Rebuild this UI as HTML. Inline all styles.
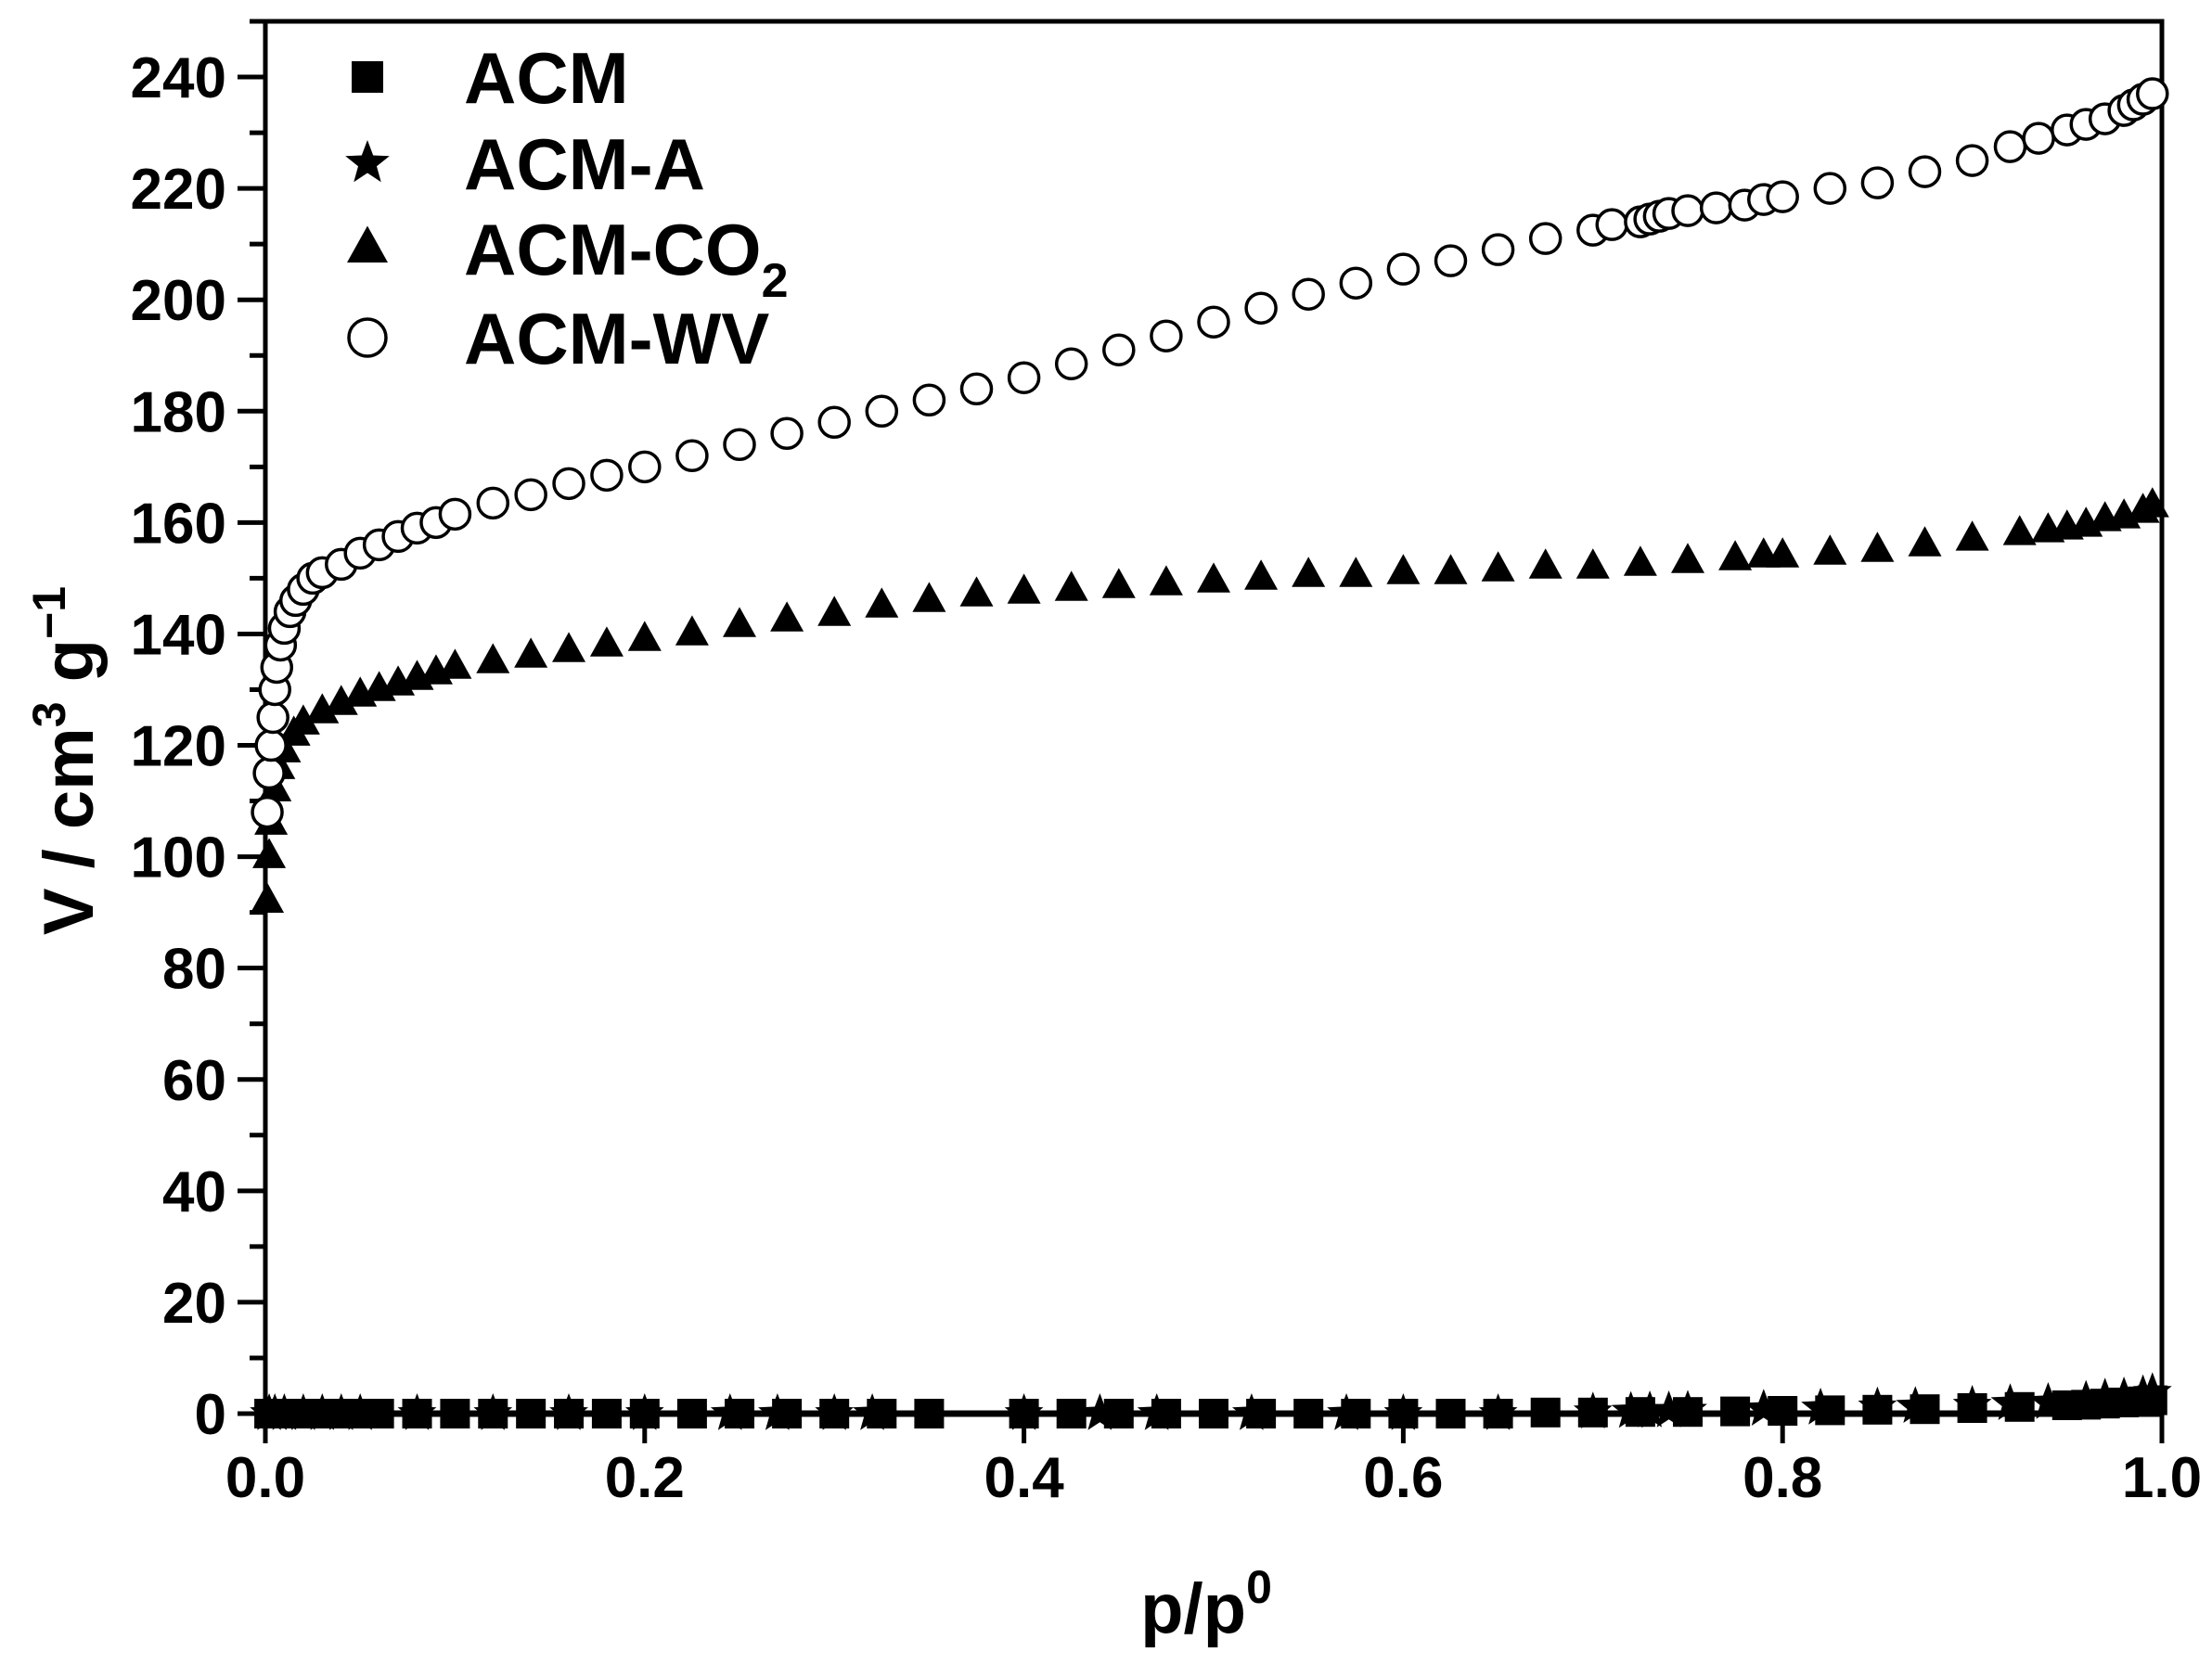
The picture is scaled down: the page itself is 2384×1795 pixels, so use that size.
<!DOCTYPE html>
<html><head><meta charset="utf-8"><style>
html,body{margin:0;padding:0;background:#fff;}
svg{display:block;font-family:"Liberation Sans",Arial,sans-serif;font-weight:bold;}
</style></head><body>
<svg id="chart" width="2384" height="1795" viewBox="0 0 2384 1795" xmlns="http://www.w3.org/2000/svg">
<g id="axes"></g>
<g id="marks"></g>
<g id="legend"></g>
<text transform="translate(100,820) rotate(-90)" text-anchor="middle" font-size="76">V / cm<tspan dy="-30" font-size="50">3</tspan><tspan dy="30"> g</tspan><tspan dy="-30" font-size="50">−1</tspan></text>
<text x="1300" y="1760" text-anchor="middle" font-size="76">p/p<tspan dy="-32" font-size="50">0</tspan></text>
</svg>
<script>
const xTicks=[0,0.2,0.4,0.6,0.8,1.0];
const xTickLabels=["0.0","0.2","0.4","0.6","0.8","1.0"];
const yTicks=[0,20,40,60,80,100,120,140,160,180,200,220,240];
const wvX=[0.001,0.002,0.003,0.004,0.005,0.006,0.008,0.01,0.013,0.016,0.02,0.025,0.03,0.04,0.05,0.06,0.07,0.08,0.09,0.1,0.12,0.14,0.16,0.18,0.2,0.225,0.25,0.275,0.3,0.325,0.35,0.375,0.4,0.425,0.45,0.475,0.5,0.525,0.55,0.575,0.6,0.625,0.65,0.675,0.7,0.71,0.725,0.73,0.735,0.74,0.75,0.765,0.78,0.79,0.8,0.825,0.85,0.875,0.9,0.92,0.935,0.95,0.96,0.97,0.98,0.985,0.99,0.995];
const wvY=[108,115,120,125,130,134,138,141,144,146,148,150,151,152.5,154.5,156,157.5,159,160,161.5,163.5,165,167,168.5,170,172,174,176,178,180,182,184,186,188.5,191,193.5,196,198.5,201,203,205.5,207,209,211,212.5,213.5,214,214.5,215,215.5,216,216.5,217,218,218.5,220,221,223,225,227.5,229,230.5,231.5,232.5,234,235,236,237];
const co2X=[0.001,0.002,0.003,0.005,0.007,0.01,0.015,0.02,0.03,0.04,0.05,0.06,0.07,0.08,0.09,0.1,0.12,0.14,0.16,0.18,0.2,0.225,0.25,0.275,0.3,0.325,0.35,0.375,0.4,0.425,0.45,0.475,0.5,0.525,0.55,0.575,0.6,0.625,0.65,0.675,0.7,0.725,0.75,0.775,0.79,0.8,0.825,0.85,0.875,0.9,0.925,0.94,0.95,0.96,0.97,0.98,0.99,0.995];
const co2Y=[92,100,106,112,116,119,122,124,126,127.5,129,130,131,132,133,134,135,136,137,138,139,140,141.5,142.5,143.5,145,146,147,147.5,148,148.5,149,149.5,150,150.5,150.5,151,151,151.5,152,152,152.5,153,153.5,154,154,154.5,155,156,157,158,158.5,159,159.5,160.5,161,162,163];
const acmX=[0.002,0.005,0.01,0.02,0.03,0.04,0.05,0.06,0.08,0.1,0.12,0.14,0.16,0.18,0.2,0.225,0.25,0.275,0.3,0.325,0.35,0.4,0.425,0.45,0.475,0.5,0.525,0.55,0.575,0.6,0.625,0.65,0.675,0.7,0.725,0.75,0.775,0.8,0.825,0.85,0.875,0.9,0.925,0.95,0.96,0.97,0.98,0.99,0.995];
const acmY=[0,0,0,0,0,0,0,0,0,0,0,0,0,0,0,0,0,0,0,0,0,0,0,0,0,0,0,0,0,0,0,0,0.2,0.2,0.3,0.3,0.4,0.5,0.6,0.7,0.8,1,1.2,1.5,1.6,1.8,2,2.2,2.4];
const acmAX=[0.002,0.005,0.01,0.02,0.03,0.04,0.05,0.08,0.12,0.16,0.2,0.245,0.27,0.3,0.32,0.4,0.44,0.47,0.52,0.57,0.6,0.65,0.7,0.72,0.73,0.74,0.75,0.79,0.82,0.85,0.87,0.9,0.92,0.94,0.96,0.97,0.98,0.99,0.995];
const acmAY=[0,0,0,0,0,0,0,0,0,0,0,0,0,0,0,0,0,0,0,0,0,0,0.3,0.4,0.5,0.5,0.6,0.8,1,1.2,1.3,1.5,1.8,2,2.4,2.8,3,3.4,3.8];

const X0=286,X1=2330,Ytop=23,Y0=1524,YMAX=250;
function sx(v){return X0+(X1-X0)*v;}
function sy(v){return Y0-(Y0-Ytop)*v/YMAX;}
const NS="http://www.w3.org/2000/svg";
function mk(tag,parent,attrs){const e=document.createElementNS(NS,tag);for(const k in attrs)e.setAttribute(k,attrs[k]);parent.appendChild(e);return e;}
const axes=document.getElementById('axes'),marks=document.getElementById('marks'),legend=document.getElementById('legend');

let frame=mk('rect',axes,{x:X0,y:Ytop,width:X1-X0,height:Y0-Ytop,fill:'none',stroke:'#000','stroke-width':5});


let zl=mk('line',axes,{x1:X0,x2:X1,y1:Y0,y2:Y0,stroke:'#000','stroke-width':7});



xTicks.forEach((v,i)=>{
  const t=mk('line',axes,{x1:sx(v),x2:sx(v),y1:Y0,y2:Y0+32,stroke:'#000','stroke-width':5});
  
  
  const l=mk('text',axes,{x:sx(v),y:Y0+90,'text-anchor':'middle','font-size':62});
  l.textContent=xTickLabels[i];
  
  
});
yTicks.forEach(v=>{
  const t=mk('line',axes,{x1:X0-30,x2:X0,y1:sy(v),y2:sy(v),stroke:'#000','stroke-width':5});
  
  
  const m=mk('line',axes,{x1:X0-17,x2:X0,y1:sy(v+10),y2:sy(v+10),stroke:'#000','stroke-width':5});
  
  
  const l=mk('text',axes,{x:X0-42,y:sy(v)+22,'text-anchor':'end','font-size':62});
  l.textContent=String(v);
  
  
});

function square(p,cx,cy,s){return mk('rect',p,{x:cx-s/2,y:cy-s/2,width:s,height:s,fill:'#000'});}
function star(p,cx,cy,r){let pts=[];for(let i=0;i<10;i++){const a=-Math.PI/2+i*Math.PI/5,rr=i%2?r*0.42:r;pts.push((cx+rr*Math.cos(a)).toFixed(1)+','+(cy+rr*Math.sin(a)).toFixed(1));}return mk('polygon',p,{points:pts.join(' '),fill:'#000'});}
function tri(p,cx,cy,s){const h=s*0.9;return mk('polygon',p,{points:`${cx},${cy-h*0.62} ${cx-s/2},${cy+h*0.38} ${cx+s/2},${cy+h*0.38}`,fill:'#000'});}
function circ(p,cx,cy,r){return mk('circle',p,{cx:cx,cy:cy,r:r,fill:'#fff',stroke:'#000','stroke-width':3.5});}

acmX.forEach((x,i)=>{const e=square(marks,sx(x),sy(acmY[i]),32);
  
  });
acmAX.forEach((x,i)=>{const e=star(marks,sx(x),sy(acmAY[i]),22);
  
  });
co2X.forEach((x,i)=>{const e=tri(marks,sx(x),sy(co2Y[i]),36);
  
  });
wvX.forEach((x,i)=>{const e=circ(marks,sx(x),sy(wvY[i]),16);
  
  });

const legNames=["ACM","ACM-A","ACM-CO","ACM-WV"];
const legY=[83,176,268,364];
legNames.forEach((n,i)=>{
  const cx=396,cy=legY[i];
  let m;
  if(i==0)m=square(legend,cx,cy,34);
  else if(i==1)m=star(legend,cx,cy,25);
  else if(i==2)m=tri(legend,cx,cy,44);
  else m=circ(legend,cx,cy,20);
  
  
  const t=mk('text',legend,{x:500,y:cy+28,'font-size':78});
  t.textContent=n;
  if(i==2){const s=mk('tspan',t,{dy:24,'font-size':52});s.textContent='2';}
  
  
});
</script>
</body></html>
